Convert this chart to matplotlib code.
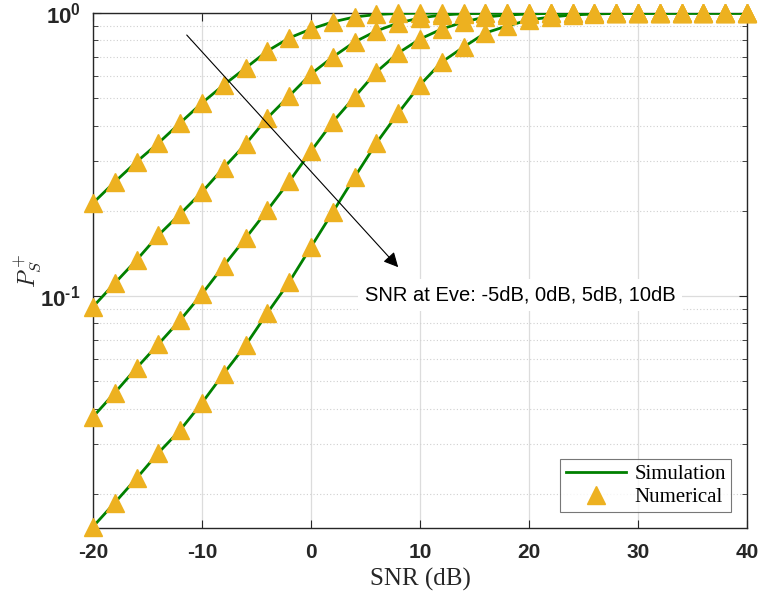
import numpy as np
import matplotlib
matplotlib.use("Agg")
import matplotlib.pyplot as plt
from matplotlib.ticker import LogLocator, NullFormatter, FixedLocator

plt.rcParams['axes.unicode_minus'] = False
plt.rcParams['mathtext.fontset'] = 'custom'
plt.rcParams['mathtext.bf'] = 'Liberation Sans:bold'
plt.rcParams['mathtext.rm'] = 'Liberation Sans:bold'

# SNR at Bob (dB)
snr = np.arange(-20, 41, 2)

# secrecy probability, one list per Eve SNR (-5, 0, 5, 10 dB)
p_m5 = [0.213, 0.253, 0.298, 0.347, 0.409, 0.481, 0.557, 0.639, 0.734, 0.816,
        0.878, 0.930, 0.968, 0.988, 0.996, 0.999, 1.0, 1.0, 1.0, 1.0,
        1.0, 1.0, 1.0, 1.0, 1.0, 1.0, 1.0, 1.0, 1.0, 1.0, 1.0]
p_0 = [0.0916, 0.111, 0.134, 0.164, 0.195, 0.233, 0.284, 0.344, 0.426, 0.509,
       0.609, 0.699, 0.790, 0.864, 0.922, 0.960, 0.984, 0.994, 0.998, 1.0,
       1.0, 1.0, 1.0, 1.0, 1.0, 1.0, 1.0, 1.0, 1.0, 1.0, 1.0]
p_5 = [0.0374, 0.0455, 0.0557, 0.0676, 0.0822, 0.1017, 0.128, 0.160, 0.201, 0.254,
       0.325, 0.412, 0.505, 0.619, 0.722, 0.809, 0.878, 0.929, 0.968, 0.984,
       0.992, 0.997, 0.999, 1.0, 1.0, 1.0, 1.0, 1.0, 1.0, 1.0, 1.0]
p_10 = [0.0153, 0.0186, 0.0227, 0.0279, 0.0336, 0.0419, 0.0532, 0.0670, 0.0871, 0.112,
        0.149, 0.198, 0.263, 0.347, 0.443, 0.557, 0.671, 0.758, 0.850, 0.900,
        0.945, 0.968, 0.984, 0.992, 0.997, 0.999, 1.0, 1.0, 1.0, 1.0, 1.0]
curves = [p_m5, p_0, p_5, p_10]

green = '#008000'
gold = '#EDB120'
axcol = '#262626'

fig = plt.figure(figsize=(7.59, 5.98), dpi=100)
ax = fig.add_axes([93/759, 70/598, 654/759, 515/598])

for i, p in enumerate(curves):
    ax.plot(snr, p, color=green, lw=2.0, label='Simulation' if i == 0 else None, zorder=3)
for i, p in enumerate(curves):
    ax.plot(snr, p, ls='none', marker='^', ms=13, color=gold, mec=gold,
            label='Numerical' if i == 0 else None, zorder=4, clip_on=False)

ax.set_yscale('log')
ax.set_xlim(-20, 40)
ax.set_ylim(0.01514, 1.0)
ax.set_xticks([-20, -10, 0, 10, 20, 30, 40])
ax.yaxis.set_major_locator(FixedLocator([0.1, 1.0]))
ax.yaxis.set_minor_locator(LogLocator(base=10, subs=np.arange(2, 10)))
ax.yaxis.set_minor_formatter(NullFormatter())

ax.grid(True, which='major', axis='x', color='#dcdcdc', lw=0.9)
ax.grid(True, which='major', axis='y', color='#dcdcdc', lw=0.9)
ax.grid(True, which='minor', axis='y', color='#d0d0d0', lw=0.8, ls=(0, (1, 2)))
ax.set_axisbelow(True)

for s in ax.spines.values():
    s.set_color(axcol)
    s.set_linewidth(1.0)
ax.tick_params(which='both', direction='in', top=True, right=True, colors=axcol)
ax.tick_params(which='major', length=6)
ax.tick_params(which='minor', length=3.5)
ax.tick_params(axis='x', pad=11)
ax.tick_params(axis='y', pad=9)
ax.set_xticklabels(['-20', '-10', '0', '10', '20', '30', '40'],
                   family='Liberation Sans', fontweight='bold', fontsize=15, color=axcol)
ax.set_yticklabels(['$\\mathbf{10^{\\text{-1}}}$', '$\\mathbf{10^{0}}$'], fontsize=16, color=axcol)

ax.set_xlabel('SNR (dB)', family='Liberation Serif', fontsize=18, color=axcol, labelpad=4)
ax.set_ylabel('$P_S^+$', fontsize=17, color=axcol, labelpad=-3,
              math_fontfamily='cm')

ax.annotate('', xy=(8.0, 0.1264), xytext=(-11.4, 0.836),
            arrowprops=dict(arrowstyle='-|>', color='black', lw=0.8,
                            mutation_scale=22, shrinkA=0, shrinkB=0), zorder=5)
ax.text(19.2, 0.1008, 'SNR at Eve: -5dB, 0dB, 5dB, 10dB', family='Liberation Sans',
        fontsize=14.5, ha='center', va='center', zorder=6,
        bbox=dict(facecolor='white', edgecolor='none', pad=5))

leg = ax.legend(loc='lower right', prop={'family': 'Liberation Serif', 'size': 15},
                frameon=True, fancybox=False, edgecolor='#555555',
                handlelength=2.9, borderpad=0.25, labelspacing=0.15,
                handletextpad=0.4, borderaxespad=0, bbox_to_anchor=(0.9755, 0.031))
leg.get_frame().set_linewidth(0.8)

fig.savefig('out.png', dpi=100)
